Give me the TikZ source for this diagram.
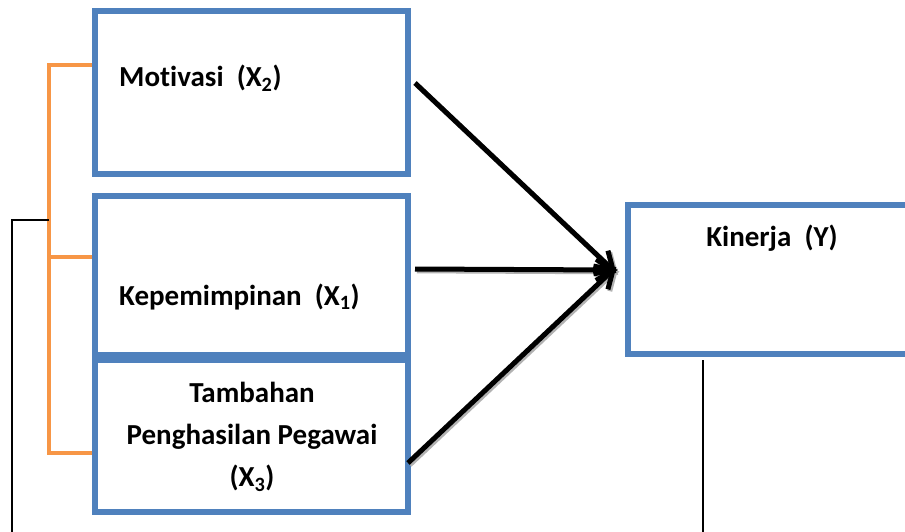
\documentclass[tikz,border=0pt]{standalone}
\usepackage{fontspec}
\setmainfont[Ligatures=NoCommon]{Carlito}
\usetikzlibrary{calc}
\definecolor{boxblue}{HTML}{4F81BD}
\definecolor{brorange}{HTML}{F79646}
\begin{document}
\begin{tikzpicture}[x=1pt,y=-1pt,
  vbox/.style={draw=boxblue, line width=6pt, rectangle, inner sep=0pt},
  lbl/.style={font=\fontsize{29}{42}\selectfont\bfseries, inner sep=0pt},
  bracket/.style={draw=brorange, line width=4pt},
  thin/.style={draw=black, line width=1.4pt},
  arr/.style={draw=black, line width=5pt, line join=miter},
  arrshadow/.style={draw=black!30, line width=5pt, line join=miter}
]
\useasboundingbox (0,0) rectangle (905,532);
\clip (0,0) rectangle (905,532);
\fill[white] (0,0) rectangle (905,532);

% orange bracket (drawn first, under the boxes)
\coordinate (bt) at (49,65);
\coordinate (bm) at (49,257);
\coordinate (bb) at (49,453);
\coordinate (bj) at (49,220);
\draw[bracket] (95,65) -- (bt) -- (bb) -- (95,453);
\draw[bracket] (bm) -- (95,257);

% boxes
\node[vbox, minimum width=313pt, minimum height=163pt] (mot) at (251.5,92.5) {};
\node[vbox, minimum width=313pt, minimum height=158.5pt] (kep) at (251.5,275.25) {};
\node[vbox, minimum width=313pt, minimum height=152pt] (tam) at (251.5,435.5) {};
\node[vbox, minimum width=302pt, minimum height=149pt] (kin) at (779,279.5) {};

% labels
\node[lbl, anchor=base west] (tmot) at (119,87) {Motivasi\ \ (X\textsubscript{2})};
\node[lbl, anchor=base west] (tkep) at (119,305) {Kepemimpinan\ \ (X\textsubscript{1})};
\node[lbl, anchor=north, align=center] (ttam) at (252,382) {Tambahan\\Penghasilan Pegawai\\(X\textsubscript{3})};
\node[lbl, anchor=base] (tkin) at (772,246) {Kinerja\ \ (Y)};

% arrows (line plus open V head)
\coordinate (a1) at (415,83);
\coordinate (a2) at (415,269);
\coordinate (a3) at (408,463);
\coordinate (tip) at ([xshift=-12pt,yshift=9.5pt]kin.west);
\coordinate (stip) at ([shift={(1.8pt,-1.8pt)}]tip);
\foreach \s in {a1,a2,a3}{
  \coordinate (s\s) at ([shift={(1.8pt,-1.8pt)}]\s);
  \draw[arrshadow] (s\s) -- (stip);
  \draw[arrshadow] ($(stip)!20pt!32:(s\s)$) -- (stip) -- ($(stip)!20pt!-32:(s\s)$);
}
\foreach \s in {a1,a2,a3}{
  \draw[arr] (\s) -- (tip);
  \draw[arr] ($(tip)!20pt!32:(\s)$) -- (tip) -- ($(tip)!20pt!-32:(\s)$);
}

% thin black lines
\coordinate (lb) at (12,540);
\draw[thin] (bj) -- (12,220) -- (lb);
\coordinate (ks) at (703,360);
\coordinate (kb) at (703,540);
\draw[thin] (ks) -- (kb);
\end{tikzpicture}
\end{document}
